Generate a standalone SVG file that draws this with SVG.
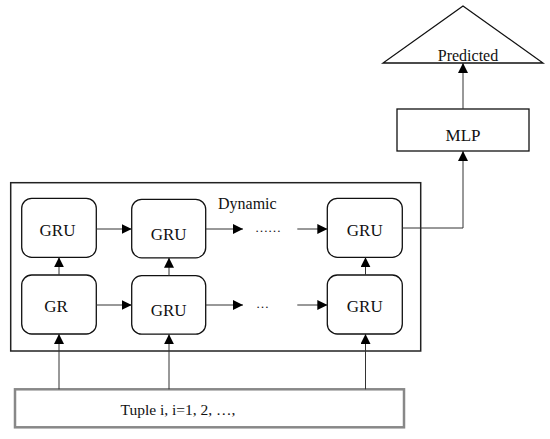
<svg xmlns="http://www.w3.org/2000/svg" width="550" height="439" viewBox="0 0 550 439">
<defs>
<marker id="ah" viewBox="0 0 10 10" refX="10" refY="5" markerWidth="10" markerHeight="10" markerUnits="userSpaceOnUse" orient="auto">
<path d="M0,0 L10,5 L0,10 z" fill="#000"/>
</marker>
</defs>
<style>
.t{font-family:"Liberation Serif","DejaVu Serif",serif;fill:#111;}
.node{fill:#fff;stroke:#111;stroke-width:1.3;}
.c{fill:none;stroke:#333;stroke-width:1;marker-end:url(#ah);}
.l{fill:none;stroke:#333;stroke-width:1;}
</style>
<rect width="550" height="439" fill="#fff"/>
<g id="outer"><rect x="10.7" y="182.7" width="410" height="168.3" fill="none" stroke="#222" stroke-width="1.5"/><text class="t" x="218" y="209" font-size="16">Dynamic</text></g>
<g id="predicted"><polygon points="463,6 383,63 543,63" fill="#fff" stroke="#111" stroke-width="1.3"/><text class="t" x="468" y="61" font-size="16" text-anchor="middle">Predicted</text></g>
<g id="mlp"><rect class="node" x="397" y="109" width="132" height="42"/><text class="t" x="463" y="141" font-size="17" text-anchor="middle">MLP</text></g>
<g id="gru11"><rect class="node" x="21.7" y="198.3" width="74.6" height="59" rx="10"/><text class="t" x="57.5" y="236" font-size="17" text-anchor="middle">GRU</text></g>
<g id="gru12"><rect class="node" x="131.7" y="199.3" width="74" height="58.5" rx="10"/><text class="t" x="168.7" y="240" font-size="17" text-anchor="middle">GRU</text></g>
<g id="gru13"><rect class="node" x="327.3" y="198.3" width="75" height="59" rx="10"/><text class="t" x="364.8" y="236" font-size="17" text-anchor="middle">GRU</text></g>
<g id="gr21"><rect class="node" x="21.7" y="275" width="74.6" height="59" rx="10"/><text class="t" x="56" y="312" font-size="17" text-anchor="middle">GR</text></g>
<g id="gru22"><rect class="node" x="131.7" y="275.7" width="74" height="58.5" rx="10"/><text class="t" x="168.7" y="316" font-size="17" text-anchor="middle">GRU</text></g>
<g id="gru23"><rect class="node" x="327.3" y="275" width="75" height="59" rx="10"/><text class="t" x="364.8" y="311.5" font-size="17" text-anchor="middle">GRU</text></g>
<g id="tuple"><rect x="15" y="389.3" width="389" height="38" fill="#fff" stroke="#888" stroke-width="2.5"/><text class="t" x="178" y="415" font-size="15.5" text-anchor="middle">Tuple i, i=1, 2, …,</text></g>
<g id="dots"><text class="t" x="255" y="232" font-size="13">……</text><text class="t" x="256" y="308" font-size="13">…</text></g>
<g id="connectors">
<path class="c" d="M96.3,229 H131.7"/>
<path class="c" d="M205.7,229 H243"/>
<path class="c" d="M297.3,229 H327.3"/>
<path class="c" d="M96.3,305 H131.7"/>
<path class="c" d="M205.7,305 H243"/>
<path class="c" d="M297.3,305 H327.3"/>
<path class="c" d="M59,275 V257.3"/>
<path class="c" d="M169,275.7 V257.8"/>
<path class="c" d="M365.5,275 V257.3"/>
<path class="c" d="M59,389.3 V334"/>
<path class="c" d="M169,389.3 V334.2"/>
<path class="c" d="M365.5,389.3 V334"/>
<path class="c" d="M402.3,228 H463 V151"/>
<path class="c" d="M463,109 V63"/>
</g>
</svg>
